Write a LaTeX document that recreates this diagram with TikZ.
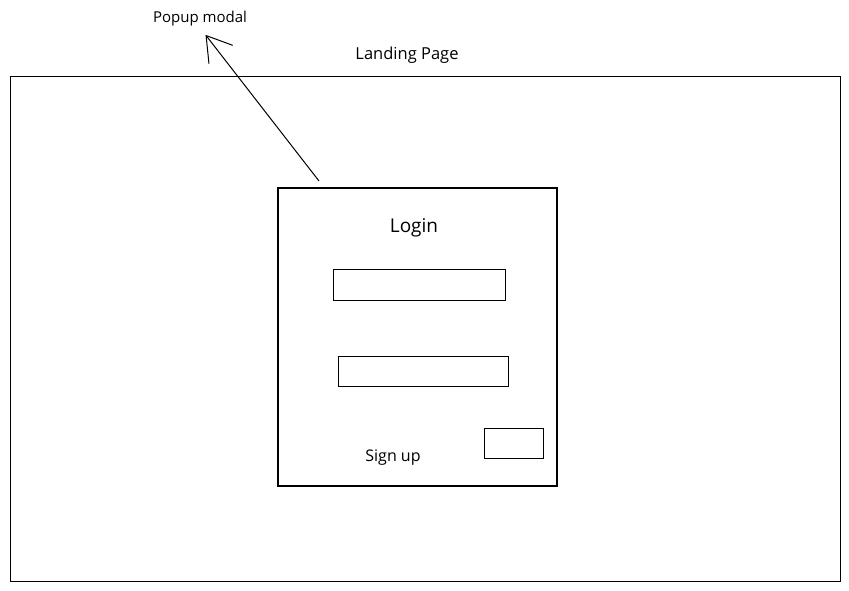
\documentclass[tikz,border=0pt]{standalone}
\usepackage{fontspec}
\setmainfont{Open Sans}
\usetikzlibrary{arrows.meta}

\begin{document}
\begin{tikzpicture}[x=1pt, y=-1pt,
		box/.style={draw, line width=0.9pt, inner sep=0pt, outer sep=0pt},
		label/.style={inner sep=1pt, font=\fontsize{#1}{#1}\selectfont},
		>={Straight Barb[length=24pt, width=30pt, line width=1pt]}]
		% Rahmen
		\useasboundingbox (0,0) rectangle (849,591);
		% Seite
		\node[box, line width=0.8pt, minimum width=830pt, minimum height=505pt] (page) at (425,328.5) {};
		\node[label=16.5] (pagetitle) at (407,55) {Landing Page};
		% Modal
		\node[box, line width=1.1pt, minimum width=279pt, minimum height=298pt] (modal) at (417.5,337) {};
		\node[label=19] (login) at (414,228) {Login};
		\node[box, minimum width=172pt, minimum height=31pt] (user) at (419,284.5) {};
		\node[box, minimum width=170pt, minimum height=30pt] (pass) at (423,371) {};
		\node[box, minimum width=59pt, minimum height=30pt] (submit) at (513.5,443) {};
		\node[label=16] (signup) at (393,458) {Sign up};
		% Pfeil zum Label
		\node[label=15] (popup) at (200,19) {Popup modal};
		\coordinate (start) at (319,181);
		\draw[->, line width=1pt, shorten >=9pt] (start) -- (popup.south);
	\end{tikzpicture}
\end{document}
